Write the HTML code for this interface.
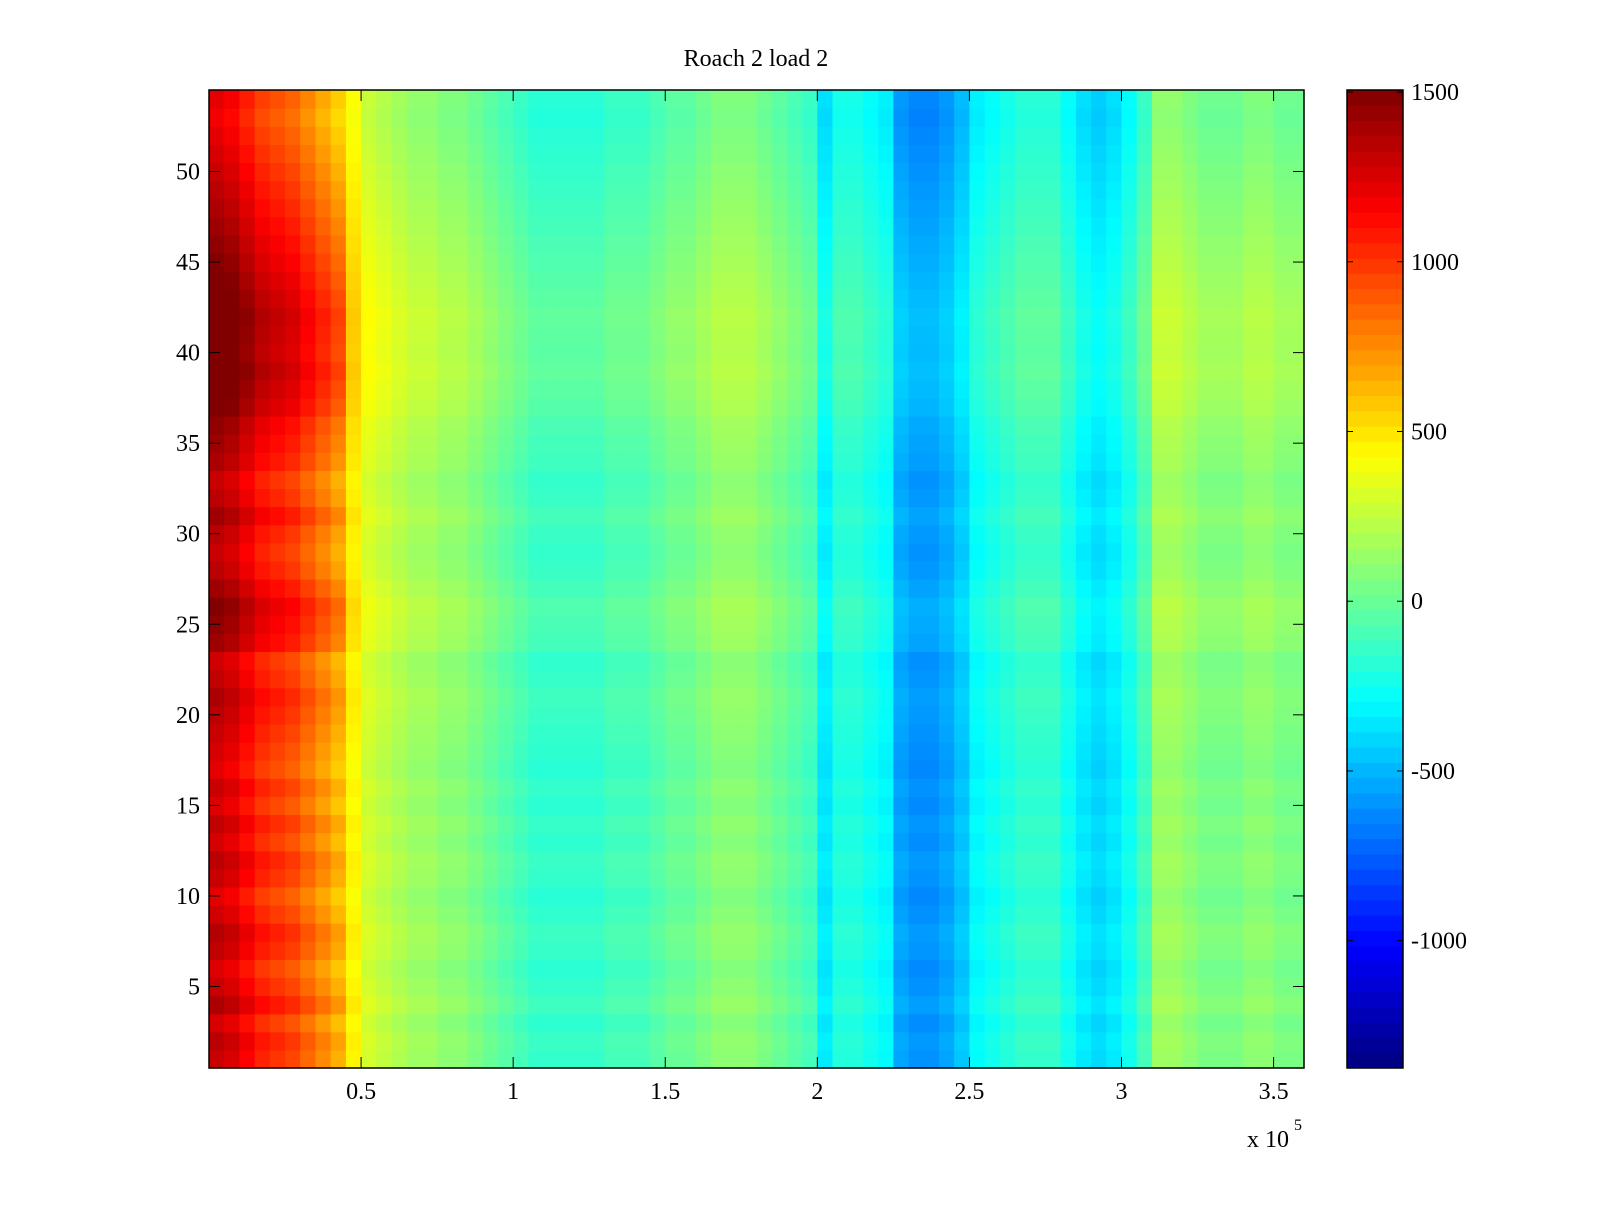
<!DOCTYPE html>
<html><head><meta charset="utf-8">
<style>
html,body{margin:0;padding:0;background:#fff;}
svg text{font-family:"Liberation Serif",serif;font-size:24px;fill:#000;}
</style></head>
<body>
<svg id="chart" width="1600" height="1200" xmlns="http://www.w3.org/2000/svg">
<rect width="1600" height="1200" fill="#fff"/>
<text x="756" y="66" text-anchor="middle">Roach 2 load 2</text>
<g id="cells"></g>
<g id="cbar"></g>
<g id="axes"></g>
</svg>
<script>
// column profile: mean value per 0.05e5 bin from 0 to 3.6e5
const colValues = [1300,1250,1150,1050,1000,950,850,750,650,450,
300,250,200,150,150,100,100,50,0,-50,
-100,-150,-150,-150,-150,-150,-100,-100,-100,-50,
0,0,50,100,100,100,50,0,-50,-100,
-350,-200,-200,-250,-300,-550,-600,-600,-550,-450,
-300,-250,-200,-150,-150,-150,-250,-350,-400,-350,
-250,-100,150,150,100,50,50,50,100,100,50,50];
// row adjustment, rows 1..54
const rowAdj = [0,20,-20,40,0,-30,10,30,-10,-40,0,20,-20,10,-30,0,-40,-20,0,20,
40,10,-10,60,80,100,60,20,0,20,60,20,0,40,60,80,120,140,160,140,
150,160,140,120,100,80,60,40,20,0,-20,-40,-60,-40];
const xTicks = [0.5,1,1.5,2,2.5,3,3.5];
const yTicks = [5,10,15,20,25,30,35,40,45,50];
const cTicks = [1500,1000,500,0,-500,-1000];

const PX0=209,PX1=1304,PY0=90,PY1=1068;
const XMIN=0, XMAX=3.6, YMIN=0.5, YMAX=54.5, CMIN=-1375, CMAX=1506;
const xs=v=>PX0+(v-XMIN)/(XMAX-XMIN)*(PX1-PX0);
const ys=v=>PY1-(v-YMIN)/(YMAX-YMIN)*(PY1-PY0);
function jet(t){t=Math.max(0,Math.min(1,t));
 const f=x=>Math.round(255*Math.max(0,Math.min(1,x)));
 return `rgb(${f(1.5-Math.abs(4*t-3))},${f(1.5-Math.abs(4*t-2))},${f(1.5-Math.abs(4*t-1))})`;}
const NS="http://www.w3.org/2000/svg";
function mk(tag,attrs,parent){const e=document.createElementNS(NS,tag);for(const k in attrs)e.setAttribute(k,attrs[k]);parent.appendChild(e);return e;}
const cells=document.getElementById('cells');
const bw=(XMAX-XMIN)/colValues.length;
for(let i=0;i<rowAdj.length;i++){
 for(let j=0;j<colValues.length;j++){
  const w=colValues[j]>500?1:0.4;
  const v=colValues[j]+rowAdj[i]*w*2;
  const x0=xs(j*bw),x1=xs((j+1)*bw),y0=ys(i+1.5),y1=ys(i+0.5);
  const r=mk('rect',{x:x0.toFixed(2),y:y0.toFixed(2),width:(x1-x0+0.6).toFixed(2),height:(y1-y0+0.6).toFixed(2),fill:jet((v-CMIN)/(CMAX-CMIN))},cells);
  
  
 }
}
// colorbar
const cb=document.getElementById('cbar');
const CX0=1347,CX1=1403,N=64;
const cy=v=>PY1-(v-CMIN)/(CMAX-CMIN)*(PY1-PY0);
for(let k=0;k<N;k++){
 const y0=PY1-(k+1)*(PY1-PY0)/N;
 const r=mk('rect',{x:CX0,y:y0,width:CX1-CX0,height:(PY1-PY0)/N+0.5,fill:jet((k+0.5)/N)},cb);
 
 
}
mk('rect',{x:CX0,y:PY0,width:CX1-CX0,height:PY1-PY0,fill:'none',stroke:'#000','stroke-width':1.5},cb);
cTicks.forEach(v=>{const y=cy(v);
 mk('line',{x1:CX0,x2:CX0+6,y1:y,y2:y,stroke:'#000'},cb);
 mk('line',{x1:CX1,x2:CX1-6,y1:y,y2:y,stroke:'#000'},cb);
 const t=mk('text',{x:1411,y:y+8},cb);t.textContent=v;
 
 
});
// axes
const ax=document.getElementById('axes');
mk('rect',{x:PX0,y:PY0,width:PX1-PX0,height:PY1-PY0,fill:'none',stroke:'#000','stroke-width':1.5},ax);
xTicks.forEach(v=>{const x=xs(v);
 mk('line',{x1:x,x2:x,y1:PY1,y2:PY1-11,stroke:'#000'},ax);
 mk('line',{x1:x,x2:x,y1:PY0,y2:PY0+11,stroke:'#000'},ax);
 const t=mk('text',{x:x,y:1099,'text-anchor':'middle'},ax);t.textContent=v;
 
 
});
yTicks.forEach(v=>{const y=ys(v);
 mk('line',{x1:PX0,x2:PX0+11,y1:y,y2:y,stroke:'#000'},ax);
 mk('line',{x1:PX1,x2:PX1-11,y1:y,y2:y,stroke:'#000'},ax);
 const t=mk('text',{x:200,y:y+8,'text-anchor':'end'},ax);t.textContent=v;
 
 
});
const ex=mk('text',{x:1247,y:1147},ax);ex.textContent='x 10';


const sup=mk('text',{x:1294,y:1130},ax);sup.textContent='5';sup.style.fontSize='16px';


</script>
</body></html>
